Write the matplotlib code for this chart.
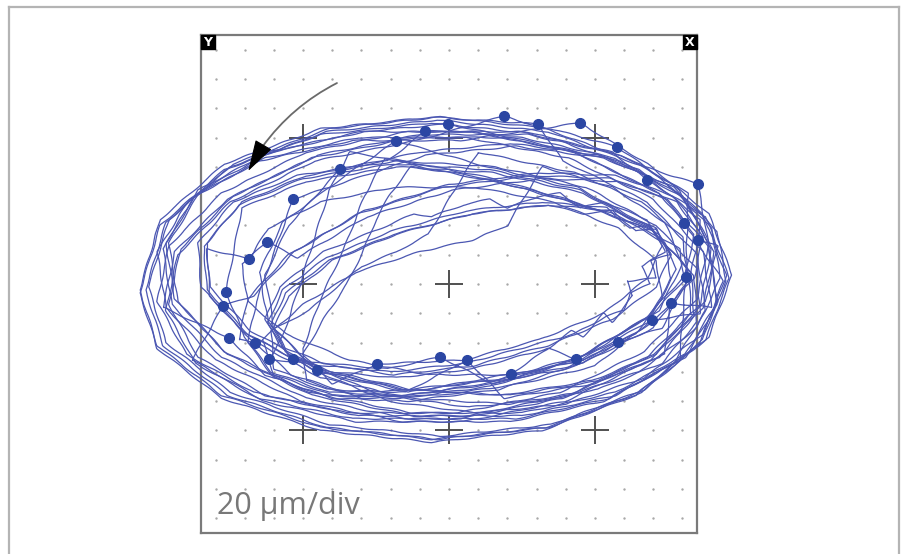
import numpy as np
import matplotlib
matplotlib.use("Agg")
import matplotlib.pyplot as plt
from matplotlib.patches import Rectangle, FancyArrowPatch
from matplotlib.lines import Line2D

# ------------------- DATEN (1 div = Punktabstand, 20 um) -------------------
# Markierungspunkte (einmal pro Umdrehung), Reihenfolge gegen den Uhrzeigersinn
dot_x = [-7.64, -7.74, -7.53, -6.64, -6.16, -5.34, -4.52, -2.47, -0.31, 0.62,
         2.12, 4.35, 5.79, 6.95, 7.60, 8.12, 8.53, 8.05, 8.53, 6.78,
         5.75, 4.49, 3.05, 1.88, -0.03, -0.82, -1.81, -3.73, -5.34, -6.23, -6.85]
dot_y = [-0.27, -0.75, -1.84, -2.01, -2.56, -2.56, -2.94, -2.73, -2.49, -2.59,
         -3.07, -2.56, -1.98, -1.23, -0.65, 0.24, 1.50, 2.08, 3.41, 3.55,
         4.68, 5.50, 5.46, 5.73, 5.46, 5.22, 4.88, 3.92, 2.90, 1.43, 0.85]

# Zwischenpunkte jeder Umdrehung (von Punkt k bis Punkt k+1)
laps = [
    # 1
    [(-7.0, -1.8), (-6.1, -3.0), (-4.1, -3.7), (-1.5, -3.8), (1.6, -3.4), (4.5, -2.5), (6.9, -1.1), (8.3, 0.4),
     (8.6, 1.8), (7.7, 3.0), (5.7, 3.7), (3.1, 3.8), (0.0, 3.4), (-2.9, 2.5), (-5.3, 1.1), (-6.7, -0.4)],
    # 2
    [(-8.8, -2.6), (-6.5, -3.9), (-3.3, -4.6), (0.4, -4.6), (3.9, -3.9), (6.8, -2.5), (8.6, -0.7), (9.0, 1.2),
     (8.0, 3.0), (5.7, 4.3), (2.5, 5.0), (-1.2, 5.0), (-4.7, 4.3), (-7.6, 2.9), (-9.4, 1.1), (-9.8, -0.8)],
    # 3
    [(-6.3, -3.1), (-4.3, -3.8), (-1.7, -3.9), (1.4, -3.5), (4.3, -2.6), (6.7, -1.2), (8.1, 0.3), (8.4, 1.7),
     (7.5, 2.9), (5.5, 3.6), (2.9, 3.7), (-0.2, 3.3), (-3.1, 2.4), (-5.5, 1.0), (-6.9, -0.5), (-7.2, -1.9)],
    # 4
    [(-5.4, -3.1), (-3.5, -3.7), (-0.8, -3.6), (2.0, -3.2), (4.5, -2.6), (6.8, -1.3), (7.6, 0.2), (7.4, 1.4),
     (6.0, 2.2), (4.0, 2.9), (1.5, 3.6), (-1.0, 4.1), (-3.4, 4.5), (-4.1, 3.2), (-4.6, 1.6), (-5.1, 0.0),
     (-5.7, -1.8)],
    # 5
    [(-4.2, -2.8), (-2.0, -3.0), (0.6, -2.7), (3.2, -2.0), (4.3, -1.7), (5.4, -1.1), (6.0, -0.9), (6.2, -0.3),
     (6.9, 0.0), (6.6, 0.6), (7.4, 1.1), (6.9, 2.0), (6.2, 1.9), (5.4, 2.6), (3.2, 2.8), (0.6, 2.5),
     (-2.0, 1.8), (-4.2, 0.9), (-5.7, -0.2), (-6.2, -1.3), (-5.7, -2.2)],
    # 6
    [(-1.9, -3.1), (0.8, -2.8), (3.4, -2.1), (5.6, -1.2), (7.1, -0.1), (7.6, 1.0), (7.1, 1.9), (5.6, 2.5),
     (3.4, 2.7), (0.8, 2.4), (-1.9, 1.7), (-4.1, 0.8), (-5.6, -0.3), (-6.1, -1.4), (-5.6, -2.3)],
    # 7
    [(-1.5, -3.6), (1.5, -3.3), (4.8, -2.4), (7.0, -1.0), (7.8, 0.5), (7.2, 1.7), (5.6, 2.4), (3.2, 3.1),
     (0.8, 3.7), (-1.3, 4.0), (-2.0, 3.1), (-2.5, 2.2), (-2.7, 1.7), (-3.0, 1.0), (-3.5, 0.0), (-4.3, -1.2),
     (-5.0, -2.4), (-4.0, -3.4)],
    # 8
    [(0.5, -2.6), (3.1, -1.9), (5.3, -1.0), (6.8, 0.2), (7.3, 1.3), (6.8, 2.2), (5.3, 2.8), (4.5, 2.6),
     (3.8, 3.1), (3.1, 3.0), (2.0, 2.6), (1.4, 2.9), (0.5, 2.7), (-0.6, 2.3), (-1.2, 2.4), (-2.1, 2.0),
     (-4.3, 1.1), (-5.8, -0.1), (-6.3, -1.2), (-5.8, -2.1), (-4.3, -2.7), (-2.1, -2.9)],
    # 9
    [(1.5, -3.4), (4.6, -2.7), (7.0, -1.5), (8.2, 0.1), (8.0, 1.6), (6.6, 2.8), (4.3, 3.8), (1.0, 4.5),
     (0.3, 3.4), (-0.7, 1.7), (-1.8, 1.1), (-3.0, 0.6), (-4.8, -0.9), (-6.1, -1.6), (-6.0, -2.9), (-4.2, -3.6),
     (-1.5, -3.7)],
    # 10
    [(1.9, -3.9), (5.0, -3.4), (7.2, -2.5), (8.4, -1.1), (8.3, 0.4), (6.9, 1.9), (4.5, 3.2), (1.4, 3.9),
     (-1.9, 4.1), (-5.0, 3.6), (-7.2, 2.7), (-8.4, 1.3), (-8.3, -0.2), (-6.9, -1.7), (-4.5, -3.0), (-1.4, -3.7)],
    # 11
    [(3.4, -2.2), (4.2, -1.6), (4.6, -1.8), (5.3, -1.0), (5.6, -1.3), (6.3, -0.4), (6.1, 0.1), (7.1, 0.2),
     (6.9, 0.8), (7.6, 1.0), (7.1, 1.9), (6.4, 1.8), (5.6, 2.5), (4.6, 2.4), (3.4, 2.7), (0.8, 2.4),
     (-1.8, 1.7), (-4.0, 0.8), (-5.5, -0.4), (-6.0, -1.5), (-5.5, -2.4), (-4.0, -3.0), (-1.8, -3.2), (0.8, -2.9),
     (3.4, -2.2)],
    # 12
    [(7.2, -0.9), (8.0, 0.7), (7.4, 2.1), (5.6, 3.3), (3.2, 4.0), (2.6, 3.0), (2.0, 2.0), (0.8, 1.5),
     (-1.0, 1.1), (-3.2, 0.4), (-5.0, -0.7), (-6.4, -1.9), (-6.0, -3.1), (-4.0, -3.8), (-1.3, -3.8), (1.8, -3.3),
     (4.0, -2.9)],
    # 13
    [(7.3, -1.5), (8.1, 0.0), (7.9, 1.2), (6.5, 2.0), (4.5, 2.7), (2.0, 3.4), (-0.5, 3.9), (-2.2, 4.3),
     (-2.9, 3.0), (-3.6, 1.2), (-4.4, -0.5), (-5.0, -2.2), (-4.9, -3.3), (-3.0, -3.9), (-0.3, -3.8), (2.5, -3.4),
     (5.0, -2.8)],
    # 14
    [(8.6, -1.0), (8.5, 0.5), (7.1, 2.0), (4.7, 3.3), (1.6, 4.0), (-1.8, 4.2), (-4.9, 3.7), (-7.1, 2.8),
     (-8.3, 1.4), (-8.2, -0.1), (-6.8, -1.6), (-4.4, -2.9), (-1.3, -3.6), (2.1, -3.8), (5.2, -3.3), (7.4, -2.4)],
    # 15
    [(9.0, -0.8), (8.7, 1.1), (7.0, 2.9), (4.1, 4.3), (0.6, 5.0), (-3.1, 5.0), (-6.3, 4.3), (-8.7, 3.0),
     (-9.8, 1.2), (-9.5, -0.7), (-7.8, -2.5), (-4.9, -3.9), (-1.4, -4.6), (2.3, -4.6), (5.5, -3.9), (7.9, -2.6)],
    # 16
    [(8.2, 3.1), (5.9, 4.4), (2.7, 5.1), (-1.0, 5.1), (-4.5, 4.4), (-7.4, 3.0), (-9.2, 1.2), (-9.6, -0.7),
     (-8.6, -2.5), (-6.3, -3.8), (-3.1, -4.5), (0.6, -4.5), (4.1, -3.8), (7.0, -2.4), (8.8, -0.6), (9.2, 1.3)],
    # 17
    [(8.6, 2.2), (6.5, 3.9), (3.2, 5.1), (-0.6, 5.5), (-4.4, 5.1), (-7.7, 3.9), (-9.9, 2.0), (-10.6, -0.3),
     (-10.0, -2.2), (-7.8, -3.9), (-4.4, -5.0), (-0.6, -5.4), (3.2, -5.0), (6.4, -3.8), (8.6, -2.0), (9.4, 0.1)],
    # 18
    [(7.2, 3.1), (4.3, 4.5), (0.8, 5.2), (-2.9, 5.2), (-6.1, 4.5), (-8.5, 3.2), (-9.6, 1.4), (-9.3, -0.6),
     (-7.6, -2.4), (-4.7, -3.8), (-1.2, -4.5), (2.5, -4.5), (5.7, -3.8), (8.1, -2.5), (9.2, -0.7), (8.9, 1.3)],
    # 19
    [(6.7, 4.0), (3.4, 5.2), (-0.4, 5.6), (-4.2, 5.2), (-7.5, 4.0), (-9.7, 2.1), (-10.4, -0.2), (-9.8, -2.1),
     (-7.6, -3.8), (-4.2, -4.9), (-0.4, -5.3), (3.4, -4.9), (6.6, -3.7), (8.8, -1.9), (9.6, 0.2), (8.8, 2.3)],
    # 20
    [(5.6, 4.5), (2.4, 5.2), (-1.4, 5.2), (-4.9, 4.5), (-7.8, 3.1), (-9.6, 1.3), (-10.0, -0.6), (-9.0, -2.4),
     (-6.7, -3.7), (-3.5, -4.4), (0.3, -4.4), (3.8, -3.7), (6.7, -2.3), (8.5, -0.5), (8.9, 1.4), (7.9, 3.2)],
    # 21
    [(3.5, 5.3), (-0.3, 5.7), (-4.1, 5.3), (-7.4, 4.1), (-9.6, 2.2), (-10.3, -0.1), (-9.7, -2.0), (-7.5, -3.7),
     (-4.1, -4.8), (-0.3, -5.2), (3.5, -4.8), (6.7, -3.6), (8.9, -1.8), (9.7, 0.3), (8.9, 2.4), (6.8, 4.1)],
    # 22
    [(0.4, 4.9), (-3.3, 4.9), (-6.5, 4.2), (-8.9, 2.9), (-10.0, 1.1), (-9.7, -0.8), (-8.0, -2.6), (-5.1, -4.0),
     (-1.6, -4.7), (2.1, -4.7), (5.3, -4.0), (7.7, -2.7), (8.8, -0.9), (8.5, 1.0), (6.8, 2.8), (3.9, 4.2)],
    # 23
    [(-0.6, 5.7), (-4.4, 5.3), (-7.7, 4.1), (-9.9, 2.2), (-10.6, -0.2), (-10.0, -2.1), (-7.8, -3.8), (-4.4, -4.9),
     (-0.6, -5.3), (3.3, -4.9), (6.5, -3.7), (8.7, -1.9), (9.5, 0.3), (8.7, 2.4), (6.6, 4.1), (3.3, 5.3)],
    # 24
    [(-1.1, 4.9), (-4.6, 4.2), (-7.5, 2.8), (-9.3, 1.0), (-9.7, -0.9), (-8.7, -2.7), (-6.4, -4.0), (-3.2, -4.7),
     (0.5, -4.7), (4.0, -4.0), (6.9, -2.6), (8.7, -0.8), (9.1, 1.1), (8.1, 2.9), (5.8, 4.2), (2.6, 4.9)],
    # 25
    [(-3.0, 5.2), (-6.2, 4.5), (-8.6, 3.2), (-9.7, 1.4), (-9.4, -0.5), (-7.7, -2.3), (-4.8, -3.7), (-1.3, -4.4),
     (2.5, -4.4), (5.7, -3.7), (8.1, -2.4), (9.2, -0.6), (8.9, 1.3), (7.2, 3.1), (4.3, 4.5), (0.8, 5.2)],
    # 26
    [(-2.1, 4.2), (-5.2, 3.7), (-7.4, 2.8), (-8.6, 1.4), (-8.5, -0.1), (-7.1, -1.6), (-4.7, -2.9), (-1.6, -3.6),
     (1.8, -3.8), (4.9, -3.3), (7.1, -2.4), (8.3, -1.0), (8.2, 0.5), (6.8, 2.0), (4.4, 3.3), (1.3, 4.0)],
    # 27
    [(-3.7, 3.6), (-5.7, 2.1), (-6.5, 0.4), (-6.2, -1.3), (-4.7, -2.8), (-2.3, -3.8), (0.7, -4.2), (3.8, -3.9),
     (6.5, -3.0), (8.5, -1.5), (9.3, 0.2), (9.0, 1.9), (7.5, 3.4), (5.1, 4.4), (2.1, 4.8), (-1.0, 4.5)],
    # 28
    [(-5.5, 2.0), (-6.3, 0.3), (-6.0, -1.5), (-4.5, -3.0), (-2.1, -4.0), (0.9, -4.4), (4.0, -4.1), (6.7, -3.2),
     (8.7, -1.7), (9.5, 0.1), (9.2, 1.8), (7.7, 3.3), (5.3, 4.3), (2.3, 4.7), (-0.8, 4.4), (-3.5, 3.5)],
    # 29
    [(-6.6, -0.6), (-6.9, -2.0), (-6.0, -3.2), (-4.0, -3.9), (-1.4, -4.0), (1.7, -3.6), (4.6, -2.7), (7.0, -1.3),
     (8.4, 0.2), (8.7, 1.6), (7.8, 2.8), (5.8, 3.5), (3.2, 3.6), (0.1, 3.2), (-2.8, 2.3), (-5.2, 0.9)],
    # 30
    [(-7.1, 0.7), (-6.9, -0.6), (-5.6, -1.7), (-3.4, -2.6), (-0.7, -3.1), (2.1, -3.1), (4.6, -2.6), (6.4, -1.7),
     (7.3, -0.5), (7.1, 0.8), (5.8, 1.9), (3.6, 2.8), (0.9, 3.3), (-1.9, 3.3), (-4.4, 2.8), (-6.2, 1.9)],
    # 31
    [(-8.3, 1.2), (-8.2, -0.4), (-6.8, -1.9), (-4.4, -3.2), (-1.3, -3.9), (2.0, -4.1), (5.1, -3.6), (7.3, -2.7),
     (8.5, -1.3), (8.4, 0.3), (7.0, 1.8), (4.6, 3.1), (1.5, 3.8), (-1.8, 4.0), (-4.9, 3.5), (-7.1, 2.6)],
]

grid_pos = np.arange(-8, 9)        # Rasterpunkte
cross_pos = [-5, 0, 5]             # Hauptkreuze
scale_text = "20 µm/div"
arrow_start = (-3.84, 6.86)
arrow_base = (-6.40, 4.68)
arrow_tip = (-6.88, 3.86)

# ------------------- PLOTTEN -------------------
W, H = 901, 554
fig = plt.figure(figsize=(W / 100, H / 100), dpi=100)
fig.patch.set_facecolor("white")

# aeusserer Rahmen (unten offen)
rc = "#b4b4b4"
fig.add_artist(Line2D([9 / W, 9 / W], [0, 1 - 7 / H], color=rc, lw=1.6))
fig.add_artist(Line2D([9 / W, 899 / W], [1 - 7 / H, 1 - 7 / H], color=rc, lw=1.6))
fig.add_artist(Line2D([899 / W, 899 / W], [0, 1 - 7 / H], color=rc, lw=1.6))

ax = fig.add_axes([201 / W, 21 / H, 496 / W, 498 / H])
ax.set_xlim(-8.5, 8.5)
ax.set_ylim(-8.5, 8.5)
ax.set_xticks([])
ax.set_yticks([])
for sp in ax.spines.values():
    sp.set_color("#7a7a7a")
    sp.set_linewidth(1.6)

gx, gy = np.meshgrid(grid_pos, grid_pos)
mask = ~(np.isin(gx, cross_pos) & np.isin(gy, cross_pos))
ax.scatter(gx[mask], gy[mask], s=3, color="#a8a8a8", linewidths=0, zorder=1)
cx, cy = np.meshgrid(cross_pos, cross_pos)
ax.plot(cx.ravel(), cy.ravel(), ls="none", marker="+", ms=20, mew=1.4, color="#505050", zorder=2)

n = len(dot_x)
for k, pts in enumerate(laps):
    nxt = (k + 1) % n
    xs = [dot_x[k]] + [p[0] for p in pts] + [dot_x[nxt]]
    ys = [dot_y[k]] + [p[1] for p in pts] + [dot_y[nxt]]
    ln, = ax.plot(xs, ys, color="#4b57b2", lw=0.9, clip_on=False, zorder=3)
    ln.set_sketch_params(scale=0.6, length=45, randomness=2)   # leicht unruhige Messspur

ax.plot(dot_x, dot_y, ls="none", marker="o", ms=7, color="#2b46a3", clip_on=False, zorder=4)

# Kennzeichnung Y / X
sq = 14 / 496
for xpos, lab in [(0, "Y"), (1 - sq, "X")]:
    ax.add_patch(Rectangle((xpos, 1 - sq * 496 / 498), sq, sq * 496 / 498,
                           transform=ax.transAxes, color="black", zorder=6, clip_on=False))
    ax.text(xpos + sq / 2, 1 - sq / 2, lab, transform=ax.transAxes, color="white",
            fontsize=9, fontweight="bold", ha="center", va="center", zorder=7)

# Drehrichtungspfeil
ax.add_patch(FancyArrowPatch(arrow_start, arrow_base, arrowstyle="-",
                             connectionstyle="arc3,rad=0.12", color="#6a6a6a", lw=1.3,
                             shrinkA=0, shrinkB=0, zorder=5))
ax.annotate("", xy=arrow_tip, xytext=arrow_base,
            arrowprops=dict(arrowstyle="-|>,head_length=2.0,head_width=0.6", color="black",
                            lw=0.8, shrinkA=0, shrinkB=0), zorder=5)

ax.text(-7.95, -7.85, scale_text, fontsize=22, color="#787878", family="Open Sans",
        ha="left", va="baseline", zorder=5)

fig.savefig("out.png", dpi=100)
